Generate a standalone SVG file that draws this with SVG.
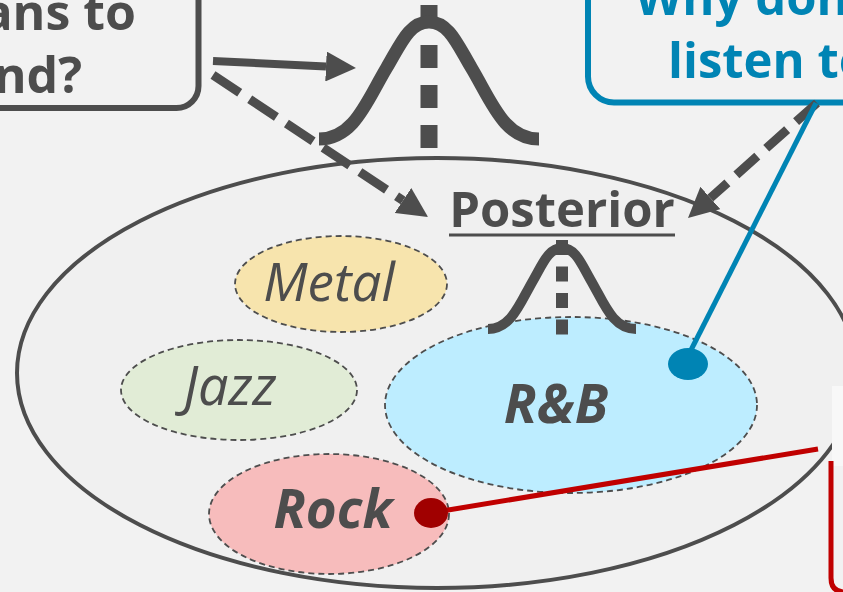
<svg xmlns="http://www.w3.org/2000/svg" width="843" height="592" viewBox="0 0 843 592">
  <style>
    .lbl { font-family: "Open Sans", "Noto Sans", "Liberation Sans", sans-serif; fill: #4d4d4d; }
    .bold { font-weight: 700; }
    .ital { font-style: italic; }
    .blue { fill: #0084b4; }
    .genre { stroke: #4d4d4d; stroke-width: 1.8; stroke-dasharray: 6 4; }
    .bell { fill: none; stroke: #4d4d4d; stroke-linecap: butt; stroke-linejoin: round; }
    .mean { stroke: #4d4d4d; }
    .arrow { stroke: #4d4d4d; fill: none; }
  </style>
  <defs>
    <marker id="head" viewBox="0 0 10 10" refX="0" refY="5" markerUnits="userSpaceOnUse" markerWidth="30" markerHeight="30" orient="auto">
      <path d="M0,0 L10,5 L0,10 z" fill="#4d4d4d"/>
    </marker>
  </defs>

  <rect width="843" height="592" fill="#f2f2f2"/>

  <!-- population ellipse -->
  <g id="population">
    <ellipse cx="437" cy="373" rx="420" ry="215" fill="#f0f0f0" stroke="#4d4d4d" stroke-width="4"/>
  </g>

  <!-- prior distribution -->
  <g id="prior">
    <line class="mean" x1="429" y1="5" x2="429" y2="148" stroke-width="17" stroke-dasharray="23 17"/>
    <path class="bell" stroke-width="13" d="M319,139 C354,139 366.5,101.4 386.5,68 C400.5,44.6 409,22 429,22 C449,22 457.5,44.6 471.5,68 C491.5,101.4 504,139 539,139"/>
  </g>

  <!-- genre clusters -->
  <g id="metal">
    <ellipse class="genre" cx="341" cy="284" rx="106" ry="48" fill="#f7e4ad"/>
    <text class="lbl ital" x="329" y="301" font-size="53" text-anchor="middle">Metal</text>
  </g>
  <g id="jazz">
    <ellipse class="genre" cx="239" cy="390" rx="118" ry="50" fill="#e1ecd6"/>
    <text class="lbl ital" x="230" y="405" font-size="54" text-anchor="middle">Jazz</text>
  </g>
  <g id="rnb">
    <ellipse class="genre" cx="571" cy="405" rx="186" ry="88" fill="#bdedff"/>
    <text class="lbl bold ital" x="556" y="423" font-size="54" text-anchor="middle">R&amp;B</text>
  </g>
  <g id="rock">
    <ellipse class="genre" cx="329" cy="514" rx="120" ry="60" fill="#f7bcbc"/>
    <text class="lbl bold ital" x="333" y="528" font-size="53" text-anchor="middle">Rock</text>
  </g>

  <!-- posterior distribution -->
  <g id="posterior">
    <text class="lbl bold" x="562" y="227" font-size="49" text-anchor="middle">Posterior</text>
    <line x1="449" y1="235" x2="675" y2="235" stroke="#4d4d4d" stroke-width="3"/>
    <line class="mean" x1="562" y1="240" x2="562" y2="336" stroke-width="12" stroke-dasharray="15 11.5"/>
    <path class="bell" stroke-width="10" d="M488,329 C511.5,329 519.9,303 533.4,279.9 C542.8,263.7 548.5,248 562,248 C575.5,248 581.2,263.7 590.6,279.9 C604.1,303 612.5,329 636,329"/>
  </g>

  <!-- question boxes -->
  <g id="question-left">
    <rect x="-100" y="-40" width="298.5" height="148" rx="22" fill="#f2f2f2" stroke="#4d4d4d" stroke-width="6"/>
    <text class="lbl bold" x="136" y="30" font-size="50" text-anchor="end">ans to</text>
    <text class="lbl bold" x="82" y="93" font-size="50" text-anchor="end">nd?</text>
  </g>
  <g id="question-right">
    <rect x="588" y="-40" width="320" height="142.5" rx="26" fill="#f2f2f2" stroke="#0084b4" stroke-width="6"/>
    <text class="lbl bold blue" x="635" y="15" font-size="49">Why don</text>
    <text class="lbl bold blue" x="668" y="78" font-size="49">listen to</text>
  </g>
  <g id="side-panel">
    <rect x="832" y="386" width="20" height="80" fill="#f8f8f8"/>
    <path d="M831,461 V578 Q831,592 845,592" fill="none" stroke="#c00000" stroke-width="5"/>
  </g>

  <!-- connectors -->
  <g id="connectors">
    <line class="arrow" x1="213" y1="61" x2="326" y2="66.5" stroke-width="8" marker-end="url(#head)"/>
    <line class="arrow" x1="213" y1="75" x2="403" y2="200.5" stroke-width="9" stroke-dasharray="32 12" marker-end="url(#head)"/>
    <line class="arrow" x1="817" y1="103" x2="710.4" y2="198" stroke-width="9" stroke-dasharray="28 12" marker-end="url(#head)"/>
    <line x1="816" y1="103" x2="688" y2="356" stroke="#0084b4" stroke-width="5"/>
    <ellipse cx="688" cy="364" rx="20" ry="16" fill="#0084b4"/>
    <line x1="430" y1="513" x2="818" y2="449" stroke="#c00000" stroke-width="5"/>
    <ellipse cx="431" cy="513" rx="17" ry="15" fill="#a00000"/>
  </g>
</svg>
